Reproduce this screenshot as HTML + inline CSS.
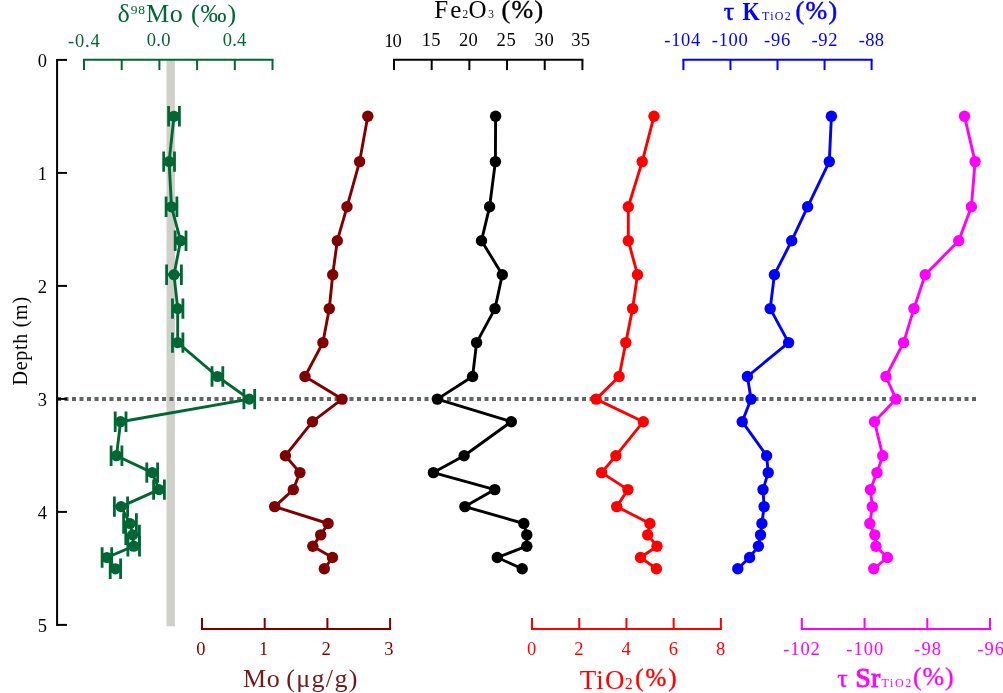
<!DOCTYPE html>
<html lang="en">
<head>
<meta charset="utf-8">
<title>Depth profiles</title>
<style>
html,body{margin:0;padding:0;background:#ffffff;}
body{width:1003px;height:693px;overflow:hidden;}
svg{display:block;}
text{font-family:"Liberation Serif","Times New Roman",Times,serif;}
.tk{font-size:18.5px;}
</style>
</head>
<body>
<svg width="1003" height="693" viewBox="0 0 1003 693">
<rect x="0" y="0" width="1003" height="693" fill="#ffffff"/>

<rect x="166.5" y="60" width="8.4" height="566.3" fill="#d0d0ca"/>
<line x1="57" y1="399" x2="976.1" y2="399" stroke="#5e6563" stroke-width="3.9" stroke-dasharray="4 3.5"/>
<g stroke="#006633" fill="#006633">
<polyline points="174,116.3 169.1,161.6 171.5,206.8 180.6,240.7 174,274.7 177.7,308.6 177.7,342.6 217.4,376.5 249.3,399.1 120.6,421.7 116.5,455.7 152.2,472.6 159,489.6 121,506.6 130,523.5 132.6,534.9 133.7,546.2 106.9,557.5 115.4,568.8" fill="none" stroke-width="2.9" stroke-linejoin="round"/>
<path d="M168.6,116.3H179.4M168.6,106.1V126.5M179.4,106.1V126.5" fill="none" stroke-width="2.8"/>
<circle cx="174" cy="116.3" r="5.6" stroke="none"/>
<path d="M163.7,161.6H174.5M163.7,151.4V171.8M174.5,151.4V171.8" fill="none" stroke-width="2.8"/>
<circle cx="169.1" cy="161.6" r="5.6" stroke="none"/>
<path d="M166.1,206.8H176.9M166.1,196.6V217.0M176.9,196.6V217.0" fill="none" stroke-width="2.8"/>
<circle cx="171.5" cy="206.8" r="5.6" stroke="none"/>
<path d="M175.2,240.7H186.0M175.2,230.5V250.9M186.0,230.5V250.9" fill="none" stroke-width="2.8"/>
<circle cx="180.6" cy="240.7" r="5.6" stroke="none"/>
<path d="M166.6,274.7H181.4M166.6,264.5V284.9M181.4,264.5V284.9" fill="none" stroke-width="2.8"/>
<circle cx="174" cy="274.7" r="5.6" stroke="none"/>
<path d="M172.5,308.6H182.9M172.5,298.4V318.8M182.9,298.4V318.8" fill="none" stroke-width="2.8"/>
<circle cx="177.7" cy="308.6" r="5.6" stroke="none"/>
<path d="M172.5,342.6H182.9M172.5,332.4V352.8M182.9,332.4V352.8" fill="none" stroke-width="2.8"/>
<circle cx="177.7" cy="342.6" r="5.6" stroke="none"/>
<path d="M212.0,376.5H222.8M212.0,366.3V386.7M222.8,366.3V386.7" fill="none" stroke-width="2.8"/>
<circle cx="217.4" cy="376.5" r="5.6" stroke="none"/>
<path d="M243.9,399.1H254.7M243.9,388.9V409.3M254.7,388.9V409.3" fill="none" stroke-width="2.8"/>
<circle cx="249.3" cy="399.1" r="5.6" stroke="none"/>
<path d="M115.2,421.7H126.0M115.2,411.5V431.9M126.0,411.5V431.9" fill="none" stroke-width="2.8"/>
<circle cx="120.6" cy="421.7" r="5.6" stroke="none"/>
<path d="M111.1,455.7H121.9M111.1,445.5V465.9M121.9,445.5V465.9" fill="none" stroke-width="2.8"/>
<circle cx="116.5" cy="455.7" r="5.6" stroke="none"/>
<path d="M146.8,472.6H157.6M146.8,462.4V482.8M157.6,462.4V482.8" fill="none" stroke-width="2.8"/>
<circle cx="152.2" cy="472.6" r="5.6" stroke="none"/>
<path d="M153.6,489.6H164.4M153.6,479.4V499.8M164.4,479.4V499.8" fill="none" stroke-width="2.8"/>
<circle cx="159" cy="489.6" r="5.6" stroke="none"/>
<path d="M114.4,506.6H127.6M114.4,496.4V516.8M127.6,496.4V516.8" fill="none" stroke-width="2.8"/>
<circle cx="121" cy="506.6" r="5.6" stroke="none"/>
<path d="M123.6,523.5H136.4M123.6,513.3V533.7M136.4,513.3V533.7" fill="none" stroke-width="2.8"/>
<circle cx="130" cy="523.5" r="5.6" stroke="none"/>
<path d="M125.8,534.9H139.4M125.8,524.7V545.1M139.4,524.7V545.1" fill="none" stroke-width="2.8"/>
<circle cx="132.6" cy="534.9" r="5.6" stroke="none"/>
<path d="M127.9,546.2H139.5M127.9,536.0V556.4M139.5,536.0V556.4" fill="none" stroke-width="2.8"/>
<circle cx="133.7" cy="546.2" r="5.6" stroke="none"/>
<path d="M102.1,557.5H111.7M102.1,547.3V567.7M111.7,547.3V567.7" fill="none" stroke-width="2.8"/>
<circle cx="106.9" cy="557.5" r="5.6" stroke="none"/>
<path d="M110.2,568.8H120.6M110.2,558.6V579.0M120.6,558.6V579.0" fill="none" stroke-width="2.8"/>
<circle cx="115.4" cy="568.8" r="5.6" stroke="none"/>
</g>
<g stroke="#800000" fill="#800000">
<polyline points="367.8,116.3 359.6,161.6 347,206.8 337.3,240.7 332.7,274.7 329.3,308.6 322.9,342.6 305,376.5 342.1,399.1 312.5,421.7 285.4,455.7 299.9,472.6 293.3,489.6 274.7,506.6 328.1,523.5 320.7,534.9 312.8,546.2 332.5,557.5 324.3,568.8" fill="none" stroke-width="2.9" stroke-linejoin="round"/>
<circle cx="367.8" cy="116.3" r="5.7" stroke="none"/>
<circle cx="359.6" cy="161.6" r="5.7" stroke="none"/>
<circle cx="347" cy="206.8" r="5.7" stroke="none"/>
<circle cx="337.3" cy="240.7" r="5.7" stroke="none"/>
<circle cx="332.7" cy="274.7" r="5.7" stroke="none"/>
<circle cx="329.3" cy="308.6" r="5.7" stroke="none"/>
<circle cx="322.9" cy="342.6" r="5.7" stroke="none"/>
<circle cx="305" cy="376.5" r="5.7" stroke="none"/>
<circle cx="342.1" cy="399.1" r="5.7" stroke="none"/>
<circle cx="312.5" cy="421.7" r="5.7" stroke="none"/>
<circle cx="285.4" cy="455.7" r="5.7" stroke="none"/>
<circle cx="299.9" cy="472.6" r="5.7" stroke="none"/>
<circle cx="293.3" cy="489.6" r="5.7" stroke="none"/>
<circle cx="274.7" cy="506.6" r="5.7" stroke="none"/>
<circle cx="328.1" cy="523.5" r="5.7" stroke="none"/>
<circle cx="320.7" cy="534.9" r="5.7" stroke="none"/>
<circle cx="312.8" cy="546.2" r="5.7" stroke="none"/>
<circle cx="332.5" cy="557.5" r="5.7" stroke="none"/>
<circle cx="324.3" cy="568.8" r="5.7" stroke="none"/>
</g>
<g stroke="#000000" fill="#000000">
<polyline points="495.6,116.3 495.4,161.6 489.6,206.8 481.5,240.7 502.3,274.7 495,308.6 476.6,342.6 472.6,376.5 437.3,399.1 511.3,421.7 464.1,455.7 433.4,472.6 494.8,489.6 464.9,506.6 523.8,523.5 526.8,534.9 526.8,546.2 497.3,557.5 522.2,568.8" fill="none" stroke-width="2.9" stroke-linejoin="round"/>
<circle cx="495.6" cy="116.3" r="5.7" stroke="none"/>
<circle cx="495.4" cy="161.6" r="5.7" stroke="none"/>
<circle cx="489.6" cy="206.8" r="5.7" stroke="none"/>
<circle cx="481.5" cy="240.7" r="5.7" stroke="none"/>
<circle cx="502.3" cy="274.7" r="5.7" stroke="none"/>
<circle cx="495" cy="308.6" r="5.7" stroke="none"/>
<circle cx="476.6" cy="342.6" r="5.7" stroke="none"/>
<circle cx="472.6" cy="376.5" r="5.7" stroke="none"/>
<circle cx="437.3" cy="399.1" r="5.7" stroke="none"/>
<circle cx="511.3" cy="421.7" r="5.7" stroke="none"/>
<circle cx="464.1" cy="455.7" r="5.7" stroke="none"/>
<circle cx="433.4" cy="472.6" r="5.7" stroke="none"/>
<circle cx="494.8" cy="489.6" r="5.7" stroke="none"/>
<circle cx="464.9" cy="506.6" r="5.7" stroke="none"/>
<circle cx="523.8" cy="523.5" r="5.7" stroke="none"/>
<circle cx="526.8" cy="534.9" r="5.7" stroke="none"/>
<circle cx="526.8" cy="546.2" r="5.7" stroke="none"/>
<circle cx="497.3" cy="557.5" r="5.7" stroke="none"/>
<circle cx="522.2" cy="568.8" r="5.7" stroke="none"/>
</g>
<g stroke="#ff0000" fill="#ff0000">
<polyline points="654,116.3 642.2,161.6 628.3,206.8 628.3,240.7 637.5,274.7 632.6,308.6 625.8,342.6 619.1,376.5 596.1,399.1 643.3,421.7 615.9,455.7 601.6,472.6 627.9,489.6 616.7,506.6 649.9,523.5 647.7,534.9 657,546.2 640.5,557.5 656.4,568.8" fill="none" stroke-width="2.9" stroke-linejoin="round"/>
<circle cx="654" cy="116.3" r="5.7" stroke="none"/>
<circle cx="642.2" cy="161.6" r="5.7" stroke="none"/>
<circle cx="628.3" cy="206.8" r="5.7" stroke="none"/>
<circle cx="628.3" cy="240.7" r="5.7" stroke="none"/>
<circle cx="637.5" cy="274.7" r="5.7" stroke="none"/>
<circle cx="632.6" cy="308.6" r="5.7" stroke="none"/>
<circle cx="625.8" cy="342.6" r="5.7" stroke="none"/>
<circle cx="619.1" cy="376.5" r="5.7" stroke="none"/>
<circle cx="596.1" cy="399.1" r="5.7" stroke="none"/>
<circle cx="643.3" cy="421.7" r="5.7" stroke="none"/>
<circle cx="615.9" cy="455.7" r="5.7" stroke="none"/>
<circle cx="601.6" cy="472.6" r="5.7" stroke="none"/>
<circle cx="627.9" cy="489.6" r="5.7" stroke="none"/>
<circle cx="616.7" cy="506.6" r="5.7" stroke="none"/>
<circle cx="649.9" cy="523.5" r="5.7" stroke="none"/>
<circle cx="647.7" cy="534.9" r="5.7" stroke="none"/>
<circle cx="657" cy="546.2" r="5.7" stroke="none"/>
<circle cx="640.5" cy="557.5" r="5.7" stroke="none"/>
<circle cx="656.4" cy="568.8" r="5.7" stroke="none"/>
</g>
<g stroke="#0000ff" fill="#0000ff">
<polyline points="831.4,116.3 829.3,161.6 807.6,206.8 791.7,240.7 774.4,274.7 770.2,308.6 788.6,342.6 747.4,376.5 751,399.1 742.2,421.7 766.6,455.7 768.2,472.6 763,489.6 764.1,506.6 761.9,523.5 760.5,534.9 758.4,546.2 749.6,557.5 737.8,568.8" fill="none" stroke-width="2.9" stroke-linejoin="round"/>
<circle cx="831.4" cy="116.3" r="5.7" stroke="none"/>
<circle cx="829.3" cy="161.6" r="5.7" stroke="none"/>
<circle cx="807.6" cy="206.8" r="5.7" stroke="none"/>
<circle cx="791.7" cy="240.7" r="5.7" stroke="none"/>
<circle cx="774.4" cy="274.7" r="5.7" stroke="none"/>
<circle cx="770.2" cy="308.6" r="5.7" stroke="none"/>
<circle cx="788.6" cy="342.6" r="5.7" stroke="none"/>
<circle cx="747.4" cy="376.5" r="5.7" stroke="none"/>
<circle cx="751" cy="399.1" r="5.7" stroke="none"/>
<circle cx="742.2" cy="421.7" r="5.7" stroke="none"/>
<circle cx="766.6" cy="455.7" r="5.7" stroke="none"/>
<circle cx="768.2" cy="472.6" r="5.7" stroke="none"/>
<circle cx="763" cy="489.6" r="5.7" stroke="none"/>
<circle cx="764.1" cy="506.6" r="5.7" stroke="none"/>
<circle cx="761.9" cy="523.5" r="5.7" stroke="none"/>
<circle cx="760.5" cy="534.9" r="5.7" stroke="none"/>
<circle cx="758.4" cy="546.2" r="5.7" stroke="none"/>
<circle cx="749.6" cy="557.5" r="5.7" stroke="none"/>
<circle cx="737.8" cy="568.8" r="5.7" stroke="none"/>
</g>
<g stroke="#ff00ff" fill="#ff00ff">
<polyline points="964.5,116.3 975.1,161.6 971.4,206.8 958.7,240.7 925.2,274.7 913.9,308.6 903.6,342.6 885.9,376.5 896,399.1 874.5,421.7 882.7,455.7 877,472.6 870.4,489.6 872.3,506.6 869.8,523.5 874.8,534.9 875.9,546.2 887.4,557.5 873.7,568.8" fill="none" stroke-width="2.9" stroke-linejoin="round"/>
<circle cx="964.5" cy="116.3" r="5.7" stroke="none"/>
<circle cx="975.1" cy="161.6" r="5.7" stroke="none"/>
<circle cx="971.4" cy="206.8" r="5.7" stroke="none"/>
<circle cx="958.7" cy="240.7" r="5.7" stroke="none"/>
<circle cx="925.2" cy="274.7" r="5.7" stroke="none"/>
<circle cx="913.9" cy="308.6" r="5.7" stroke="none"/>
<circle cx="903.6" cy="342.6" r="5.7" stroke="none"/>
<circle cx="885.9" cy="376.5" r="5.7" stroke="none"/>
<circle cx="896" cy="399.1" r="5.7" stroke="none"/>
<circle cx="874.5" cy="421.7" r="5.7" stroke="none"/>
<circle cx="882.7" cy="455.7" r="5.7" stroke="none"/>
<circle cx="877" cy="472.6" r="5.7" stroke="none"/>
<circle cx="870.4" cy="489.6" r="5.7" stroke="none"/>
<circle cx="872.3" cy="506.6" r="5.7" stroke="none"/>
<circle cx="869.8" cy="523.5" r="5.7" stroke="none"/>
<circle cx="874.8" cy="534.9" r="5.7" stroke="none"/>
<circle cx="875.9" cy="546.2" r="5.7" stroke="none"/>
<circle cx="887.4" cy="557.5" r="5.7" stroke="none"/>
<circle cx="873.7" cy="568.8" r="5.7" stroke="none"/>
</g>
<g stroke="#000" stroke-width="2" fill="none">
<path d="M57.08,58.95V625.9"/>
<path d="M57,59.9H67"/>
<path d="M57,172.9H67"/>
<path d="M57,285.9H67"/>
<path d="M57,398.9H67"/>
<path d="M57,511.9H67"/>
<path d="M57,624.9H67"/>
</g>
<text class="tk" x="42.3" y="67.2" text-anchor="middle" fill="#000">0</text>
<text class="tk" x="42.3" y="180.2" text-anchor="middle" fill="#000">1</text>
<text class="tk" x="42.3" y="293.2" text-anchor="middle" fill="#000">2</text>
<text class="tk" x="42.3" y="406.2" text-anchor="middle" fill="#000">3</text>
<text class="tk" x="42.3" y="519.2" text-anchor="middle" fill="#000">4</text>
<text class="tk" x="42.3" y="632.2" text-anchor="middle" fill="#000">5</text>
<text transform="translate(26.6,341.2) rotate(-90)" text-anchor="middle" font-size="20px" textLength="88.5" fill="#000">Depth (m)</text>
<g stroke="#006633" stroke-width="2.0" fill="none">
<path d="M83.00,59.75H273.50"/>
<path d="M84.00,59.75V70.1"/>
<path d="M121.70,59.75V70.1"/>
<path d="M159.40,59.75V70.1"/>
<path d="M197.10,59.75V70.1"/>
<path d="M234.80,59.75V70.1"/>
<path d="M272.50,59.75V70.1"/>
</g>
<text class="tk" x="83.9" y="46.5" text-anchor="middle" textLength="31.6" fill="#006633">-0.4</text>
<text class="tk" x="158.6" y="45.6" text-anchor="middle" textLength="23.9" fill="#006633">0.0</text>
<text class="tk" x="234.5" y="45.6" text-anchor="middle" textLength="23.6" fill="#006633">0.4</text>
<g stroke="#000000" stroke-width="2.0" fill="none">
<path d="M393.00,59.75H583.40"/>
<path d="M394.00,59.75V70.1"/>
<path d="M431.68,59.75V70.1"/>
<path d="M469.36,59.75V70.1"/>
<path d="M507.04,59.75V70.1"/>
<path d="M544.72,59.75V70.1"/>
<path d="M582.40,59.75V70.1"/>
</g>
<text class="tk" x="393.0" y="47" text-anchor="middle" textLength="17.4" fill="#000000">10</text>
<text class="tk" x="431.1" y="45.8" text-anchor="middle" textLength="18.7" fill="#000000">15</text>
<text class="tk" x="468.4" y="45.8" text-anchor="middle" textLength="18.6" fill="#000000">20</text>
<text class="tk" x="506.1" y="45.8" text-anchor="middle" textLength="19.1" fill="#000000">25</text>
<text class="tk" x="544.2" y="45.8" text-anchor="middle" textLength="19.2" fill="#000000">30</text>
<text class="tk" x="580.6" y="45.8" text-anchor="middle" textLength="18.6" fill="#000000">35</text>
<g stroke="#0000ff" stroke-width="2.0" fill="none">
<path d="M682.40,59.75H872.60"/>
<path d="M683.40,59.75V70.1"/>
<path d="M730.45,59.75V70.1"/>
<path d="M777.50,59.75V70.1"/>
<path d="M824.55,59.75V70.1"/>
<path d="M871.60,59.75V70.1"/>
</g>
<text class="tk" x="682.3" y="45.8" text-anchor="middle" textLength="36.1" fill="#0000ff">-104</text>
<text class="tk" x="729.8" y="45.8" text-anchor="middle" textLength="36.1" fill="#0000ff">-100</text>
<text class="tk" x="777.1" y="45.8" text-anchor="middle" textLength="26.2" fill="#0000ff">-96</text>
<text class="tk" x="824.5" y="45.8" text-anchor="middle" textLength="26.1" fill="#0000ff">-92</text>
<text class="tk" x="871.3" y="45.8" text-anchor="middle" textLength="25.2" fill="#0000ff">-88</text>
<g stroke="#800000" stroke-width="2.0" fill="none">
<path d="M201.00,629H391.10"/>
<path d="M202.00,629V618"/>
<path d="M264.70,629V618"/>
<path d="M327.40,629V618"/>
<path d="M390.10,629V618"/>
</g>
<text class="tk" x="200.8" y="655" text-anchor="middle" fill="#800000">0</text>
<text class="tk" x="263.5" y="655" text-anchor="middle" fill="#800000">1</text>
<text class="tk" x="326.2" y="655" text-anchor="middle" fill="#800000">2</text>
<text class="tk" x="388.9" y="655" text-anchor="middle" fill="#800000">3</text>
<g stroke="#ff0000" stroke-width="2.0" fill="none">
<path d="M531.00,629H721.88"/>
<path d="M532.00,629V618"/>
<path d="M579.22,629V618"/>
<path d="M626.44,629V618"/>
<path d="M673.66,629V618"/>
<path d="M720.88,629V618"/>
</g>
<text class="tk" x="531.7" y="654.6" text-anchor="middle" fill="#ff0000">0</text>
<text class="tk" x="578.9" y="654.6" text-anchor="middle" fill="#ff0000">2</text>
<text class="tk" x="626.1" y="654.6" text-anchor="middle" fill="#ff0000">4</text>
<text class="tk" x="673.4" y="654.6" text-anchor="middle" fill="#ff0000">6</text>
<text class="tk" x="720.6" y="654.6" text-anchor="middle" fill="#ff0000">8</text>
<g stroke="#ff00ff" stroke-width="2.0" fill="none">
<path d="M800.85,629H991.01"/>
<path d="M801.85,629V618"/>
<path d="M864.57,629V618"/>
<path d="M927.29,629V618"/>
<path d="M990.01,629V618"/>
</g>
<text class="tk" x="801.5" y="654.6" text-anchor="middle" textLength="36.5" fill="#ff00ff">-102</text>
<text class="tk" x="864.7" y="654.6" text-anchor="middle" textLength="37.0" fill="#ff00ff">-100</text>
<text class="tk" x="927.6" y="654.6" text-anchor="middle" textLength="27.0" fill="#ff00ff">-98</text>
<text class="tk" x="990.7" y="654.6" text-anchor="middle" textLength="26.8" fill="#ff00ff">-96</text>
<text x="117.6" y="21.6" font-size="26px" textLength="118.5" fill="#006633">δ<tspan font-size="13.5px" dy="-7.6">98</tspan><tspan dy="7.6">Mo (‰)</tspan></text>
<g fill="#000" font-size="25px">
<text x="434.2" y="17.6" textLength="27.2">Fe</text>
<text x="462.2" y="18.2" font-size="12px" fill="#222">2</text>
<text x="468.4" y="17.6">O</text>
<text x="488.1" y="18.2" font-size="12px" fill="#222">3</text>
<text x="501.4" y="18.2" font-size="26px" stroke="#000" stroke-width="0.4" textLength="41.8">(%)</text>
</g>
<g fill="#0000ff" font-size="26px">
<text x="723.8" y="20.1" stroke="#0000ff" stroke-width="0.5">τ</text>
<text x="742.6" y="20.1" font-weight="bold" textLength="17.2" lengthAdjust="spacingAndGlyphs">K</text>
<text x="762" y="19.8" font-size="12px" textLength="28.8">TiO2</text>
<text x="795.4" y="18.6" stroke="#0000ff" stroke-width="0.5" textLength="41.8">(%)</text>
</g>
<text x="243" y="686.9" font-size="26px" textLength="36.8" fill="#701a1a">Mo</text>
<text x="286.2" y="686.9" font-size="26px" textLength="71.2" fill="#701a1a">(μg/g)</text>
<g fill="#ff0000" font-size="27px">
<text x="579.8" y="688.8" textLength="44.6">TiO</text>
<text x="624.8" y="688.8" font-size="16px">2</text>
<text x="635.2" y="685.5" font-size="25px" stroke="#ff0000" stroke-width="0.4" textLength="41.4">(%)</text>
</g>
<g fill="#ff00ff" font-size="26px">
<text x="837.2" y="686.9" stroke="#ff00ff" stroke-width="0.4">τ</text>
<text x="855.2" y="686.9" font-size="28px" stroke="#ff00ff" stroke-width="0.9" textLength="25.2">Sr</text>
<text x="881.5" y="686.6" font-size="12px" textLength="29.8">TiO2</text>
<text x="912.9" y="685.4" font-size="26px" stroke="#ff00ff" stroke-width="0.3" textLength="40.8">(%)</text>
</g>
</svg>
</body>
</html>
